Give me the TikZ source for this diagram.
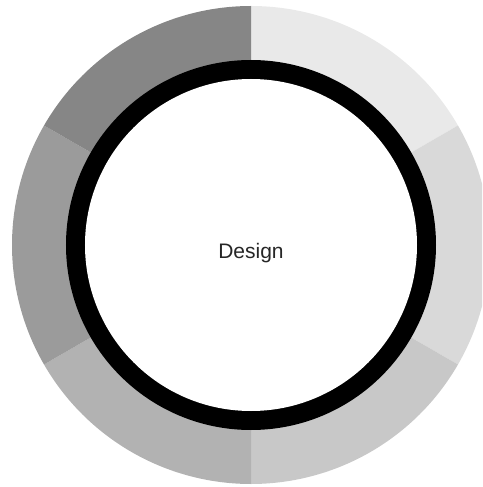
\documentclass[tikz,border=0pt]{standalone}
\usepackage{fontspec}
\setmainfont{Liberation Sans}
\definecolor{sA}{HTML}{E9E9E9}
\definecolor{sB}{HTML}{D9D9D9}
\definecolor{sC}{HTML}{C8C8C8}
\definecolor{sD}{HTML}{B2B2B2}
\definecolor{sE}{HTML}{9B9B9B}
\definecolor{sF}{HTML}{868686}
\definecolor{txt}{HTML}{262626}
\begin{document}
\begin{tikzpicture}[x=1pt,y=1pt]
\useasboundingbox (-251,-242) rectangle (231,245);
\begin{scope}
\clip (-251,-242) rectangle (231,245);
\fill[sA] (0,0) -- (90:239) arc[start angle=90,end angle=30,radius=239] -- cycle;
\fill[sB] (0,0) -- (30:239) arc[start angle=30,end angle=-30,radius=239] -- cycle;
\fill[sC] (0,0) -- (-30:239) arc[start angle=-30,end angle=-90,radius=239] -- cycle;
\fill[sD] (0,0) -- (-90:239) arc[start angle=-90,end angle=-150,radius=239] -- cycle;
\fill[sE] (0,0) -- (-150:239) arc[start angle=-150,end angle=-210,radius=239] -- cycle;
\fill[sF] (0,0) -- (150:239) arc[start angle=150,end angle=90,radius=239] -- cycle;
\end{scope}
\fill[black] (0,0) circle[radius=185];
\fill[white] (0,0) circle[radius=166];
\node[font=\fontsize{21}{25}\selectfont, text=txt, anchor=base] (c) at (0,-14) {Design};
\end{tikzpicture}
\end{document}
